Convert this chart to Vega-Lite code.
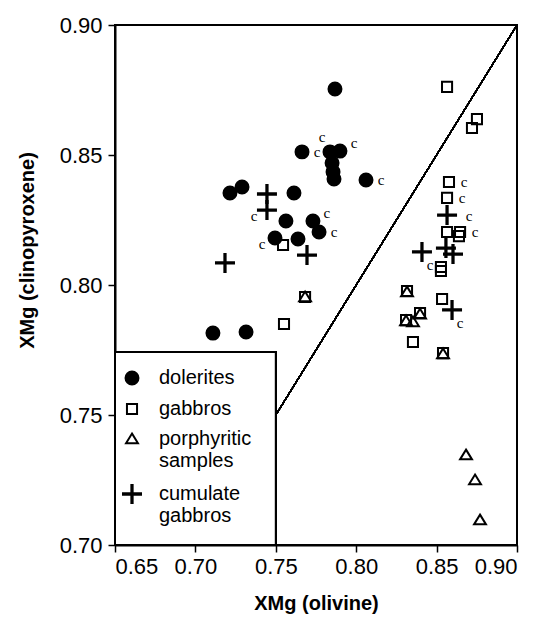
{
  "$schema": "https://vega.github.io/schema/vega-lite/v6.json",
  "width": 402,
  "height": 520,
  "autosize": {"type": "none"},
  "padding": {"left": 115, "top": 25, "right": 25, "bottom": 78},
  "background": "white",
  "data": {
    "values": [
      {"t": "dolerites", "x": 0.7868, "y": 0.8754},
      {"t": "dolerites", "x": 0.7663, "y": 0.8512, "c": "e"},
      {"t": "dolerites", "x": 0.7837, "y": 0.8512, "c": "nw"},
      {"t": "dolerites", "x": 0.7899, "y": 0.8515, "c": "ne"},
      {"t": "dolerites", "x": 0.7850, "y": 0.8469},
      {"t": "dolerites", "x": 0.7856, "y": 0.8435},
      {"t": "dolerites", "x": 0.7862, "y": 0.8408},
      {"t": "dolerites", "x": 0.8061, "y": 0.8404, "c": "e"},
      {"t": "dolerites", "x": 0.7215, "y": 0.8354},
      {"t": "dolerites", "x": 0.7290, "y": 0.8377},
      {"t": "dolerites", "x": 0.7613, "y": 0.8354},
      {"t": "dolerites", "x": 0.7563, "y": 0.8246},
      {"t": "dolerites", "x": 0.7731, "y": 0.8246, "c": "ne"},
      {"t": "dolerites", "x": 0.7769, "y": 0.8204, "c": "e"},
      {"t": "dolerites", "x": 0.7495, "y": 0.8181, "c": "w"},
      {"t": "dolerites", "x": 0.7638, "y": 0.8177},
      {"t": "dolerites", "x": 0.7109, "y": 0.7815},
      {"t": "dolerites", "x": 0.7315, "y": 0.7819},

      {"t": "gabbros", "x": 0.8565, "y": 0.8762},
      {"t": "gabbros", "x": 0.8751, "y": 0.8638},
      {"t": "gabbros", "x": 0.8720, "y": 0.8604},
      {"t": "gabbros", "x": 0.8577, "y": 0.8396, "c": "e"},
      {"t": "gabbros", "x": 0.8565, "y": 0.8335, "c": "e"},
      {"t": "gabbros", "x": 0.8565, "y": 0.8204},
      {"t": "gabbros", "x": 0.8646, "y": 0.8204, "c": "e"},
      {"t": "gabbros", "x": 0.8639, "y": 0.8188},
      {"t": "gabbros", "x": 0.8527, "y": 0.8069},
      {"t": "gabbros", "x": 0.8527, "y": 0.8054},
      {"t": "gabbros", "x": 0.8534, "y": 0.7946},
      {"t": "gabbros", "x": 0.8316, "y": 0.7977},
      {"t": "gabbros", "x": 0.8397, "y": 0.7892},
      {"t": "gabbros", "x": 0.8310, "y": 0.7865},
      {"t": "gabbros", "x": 0.8353, "y": 0.7781},
      {"t": "gabbros", "x": 0.8540, "y": 0.7738},
      {"t": "gabbros", "x": 0.7545, "y": 0.8154},
      {"t": "gabbros", "x": 0.7682, "y": 0.7954},
      {"t": "gabbros", "x": 0.7551, "y": 0.7850},

      {"t": "porphyritic samples", "x": 0.8316, "y": 0.7973},
      {"t": "porphyritic samples", "x": 0.8397, "y": 0.7888},
      {"t": "porphyritic samples", "x": 0.8310, "y": 0.7862},
      {"t": "porphyritic samples", "x": 0.8353, "y": 0.7858},
      {"t": "porphyritic samples", "x": 0.8540, "y": 0.7735},
      {"t": "porphyritic samples", "x": 0.7682, "y": 0.7954},
      {"t": "porphyritic samples", "x": 0.8683, "y": 0.7346},
      {"t": "porphyritic samples", "x": 0.8739, "y": 0.7250},
      {"t": "porphyritic samples", "x": 0.8770, "y": 0.7096},

      {"t": "cumulate gabbros", "x": 0.7445, "y": 0.8350},
      {"t": "cumulate gabbros", "x": 0.7445, "y": 0.8288, "c": "w"},
      {"t": "cumulate gabbros", "x": 0.7694, "y": 0.8115},
      {"t": "cumulate gabbros", "x": 0.7184, "y": 0.8085},
      {"t": "cumulate gabbros", "x": 0.8565, "y": 0.8269, "c": "ee"},
      {"t": "cumulate gabbros", "x": 0.8558, "y": 0.8142},
      {"t": "cumulate gabbros", "x": 0.8602, "y": 0.8119},
      {"t": "cumulate gabbros", "x": 0.8409, "y": 0.8127, "c": "se"},
      {"t": "cumulate gabbros", "x": 0.8596, "y": 0.7904, "c": "se"}
    ]
  },
  "layer": [
    {
      "mark": {"type": "rule", "color": "black", "strokeWidth": 1.1},
      "encoding": {
        "x": {"datum": 0.75, "type": "quantitative"},
        "y": {"datum": 0.75, "type": "quantitative"},
        "x2": {"datum": 0.9},
        "y2": {"datum": 0.9}
      }
    },
    {
      "mark": {"type": "rect", "fill": "white", "stroke": "black", "strokeWidth": 2},
      "encoding": {
        "x": {"datum": 0.65, "type": "quantitative"},
        "x2": {"datum": 0.75},
        "y": {"datum": 0.70, "type": "quantitative"},
        "y2": {"datum": 0.7742}
      }
    },
    {
      "mark": {"type": "point", "size": 324, "stroke": "black", "strokeWidth": 2, "opacity": 1},
      "encoding": {
        "x": {
          "field": "x", "type": "quantitative",
          "scale": {"domain": [0.65, 0.9], "nice": false, "zero": false},
          "axis": {
            "title": "XMg (olivine)",
            "values": [0.65, 0.7, 0.75, 0.8, 0.85, 0.9],
            "format": ".2f",
            "labelPadding": 4,
            "titlePadding": 16
          }
        },
        "y": {
          "field": "y", "type": "quantitative",
          "scale": {"domain": [0.7, 0.9], "nice": false, "zero": false},
          "axis": {
            "title": "XMg (clinopyroxene)",
            "values": [0.7, 0.75, 0.8, 0.85, 0.9],
            "format": ".2f",
            "labelPadding": 6,
            "titlePadding": 22,
            "titleY": 225
          }
        },
        "shape": {
          "field": "t", "type": "nominal",
          "scale": {
            "domain": ["dolerites", "gabbros", "porphyritic samples", "cumulate gabbros"],
            "range": [
              "M-0.72,0A0.72,0.72 0 1,0 0.72,0A0.72,0.72 0 1,0 -0.72,0Z",
              "M-0.56,-0.56H0.56V0.56H-0.56Z",
              "M0,-0.6L0.66,0.48L-0.66,0.48Z",
              "M-1,-0.07H-0.07V-1H0.07V-0.07H1V0.07H0.07V1H-0.07V0.07H-1Z"
            ]
          }
        },
        "fill": {
          "field": "t", "type": "nominal",
          "scale": {
            "domain": ["dolerites", "gabbros", "porphyritic samples", "cumulate gabbros"],
            "range": ["black", "transparent", "transparent", "black"]
          },
          "legend": {
            "title": null,
            "orient": "none",
            "legendX": 7,
            "legendY": 343,
            "padding": 0,
            "rowPadding": 10,
            "symbolSize": 324,
            "symbolStrokeColor": "black",
            "symbolStrokeWidth": 2,
            "labelOffset": 17,
            "labelFontSize": 20,
            "labelLimit": 300,
            "labelExpr": "datum.label == 'porphyritic samples' ? ['porphyritic', 'samples'] : datum.label == 'cumulate gabbros' ? ['cumulate', 'gabbros'] : datum.label"
          }
        }
      }
    },
    {
      "transform": [{"filter": "datum.c == 'e'"}],
      "mark": {"type": "text", "text": "c", "dx": 15, "dy": 0},
      "encoding": {"x": {"field": "x", "type": "quantitative"}, "y": {"field": "y", "type": "quantitative"}}
    },
    {
      "transform": [{"filter": "datum.c == 'ee'"}],
      "mark": {"type": "text", "text": "c", "dx": 22, "dy": 1},
      "encoding": {"x": {"field": "x", "type": "quantitative"}, "y": {"field": "y", "type": "quantitative"}}
    },
    {
      "transform": [{"filter": "datum.c == 'ne'"}],
      "mark": {"type": "text", "text": "c", "dx": 14, "dy": -8},
      "encoding": {"x": {"field": "x", "type": "quantitative"}, "y": {"field": "y", "type": "quantitative"}}
    },
    {
      "transform": [{"filter": "datum.c == 'nw'"}],
      "mark": {"type": "text", "text": "c", "dx": -8, "dy": -15},
      "encoding": {"x": {"field": "x", "type": "quantitative"}, "y": {"field": "y", "type": "quantitative"}}
    },
    {
      "transform": [{"filter": "datum.c == 'w'"}],
      "mark": {"type": "text", "text": "c", "dx": -13, "dy": 6},
      "encoding": {"x": {"field": "x", "type": "quantitative"}, "y": {"field": "y", "type": "quantitative"}}
    },
    {
      "transform": [{"filter": "datum.c == 'se'"}],
      "mark": {"type": "text", "text": "c", "dx": 8, "dy": 13},
      "encoding": {"x": {"field": "x", "type": "quantitative"}, "y": {"field": "y", "type": "quantitative"}}
    }
  ],
  "config": {
    "font": "Liberation Sans",
    "view": {"stroke": "black", "strokeWidth": 2},
    "axis": {
      "grid": false,
      "domainColor": "black",
      "domainWidth": 2,
      "tickColor": "black",
      "tickWidth": 1.5,
      "tickSize": 7,
      "labelColor": "black",
      "labelFont": "Liberation Sans",
      "labelFontSize": 22,
      "titleColor": "black",
      "titleFont": "Liberation Sans",
      "titleFontSize": 20,
      "titleFontWeight": "bold"
    },
    "legend": {
      "labelColor": "black",
      "labelFont": "Liberation Sans"
    },
    "text": {
      "font": "Liberation Serif",
      "fontSize": 15,
      "color": "black",
      "align": "center",
      "baseline": "middle"
    }
  }
}
